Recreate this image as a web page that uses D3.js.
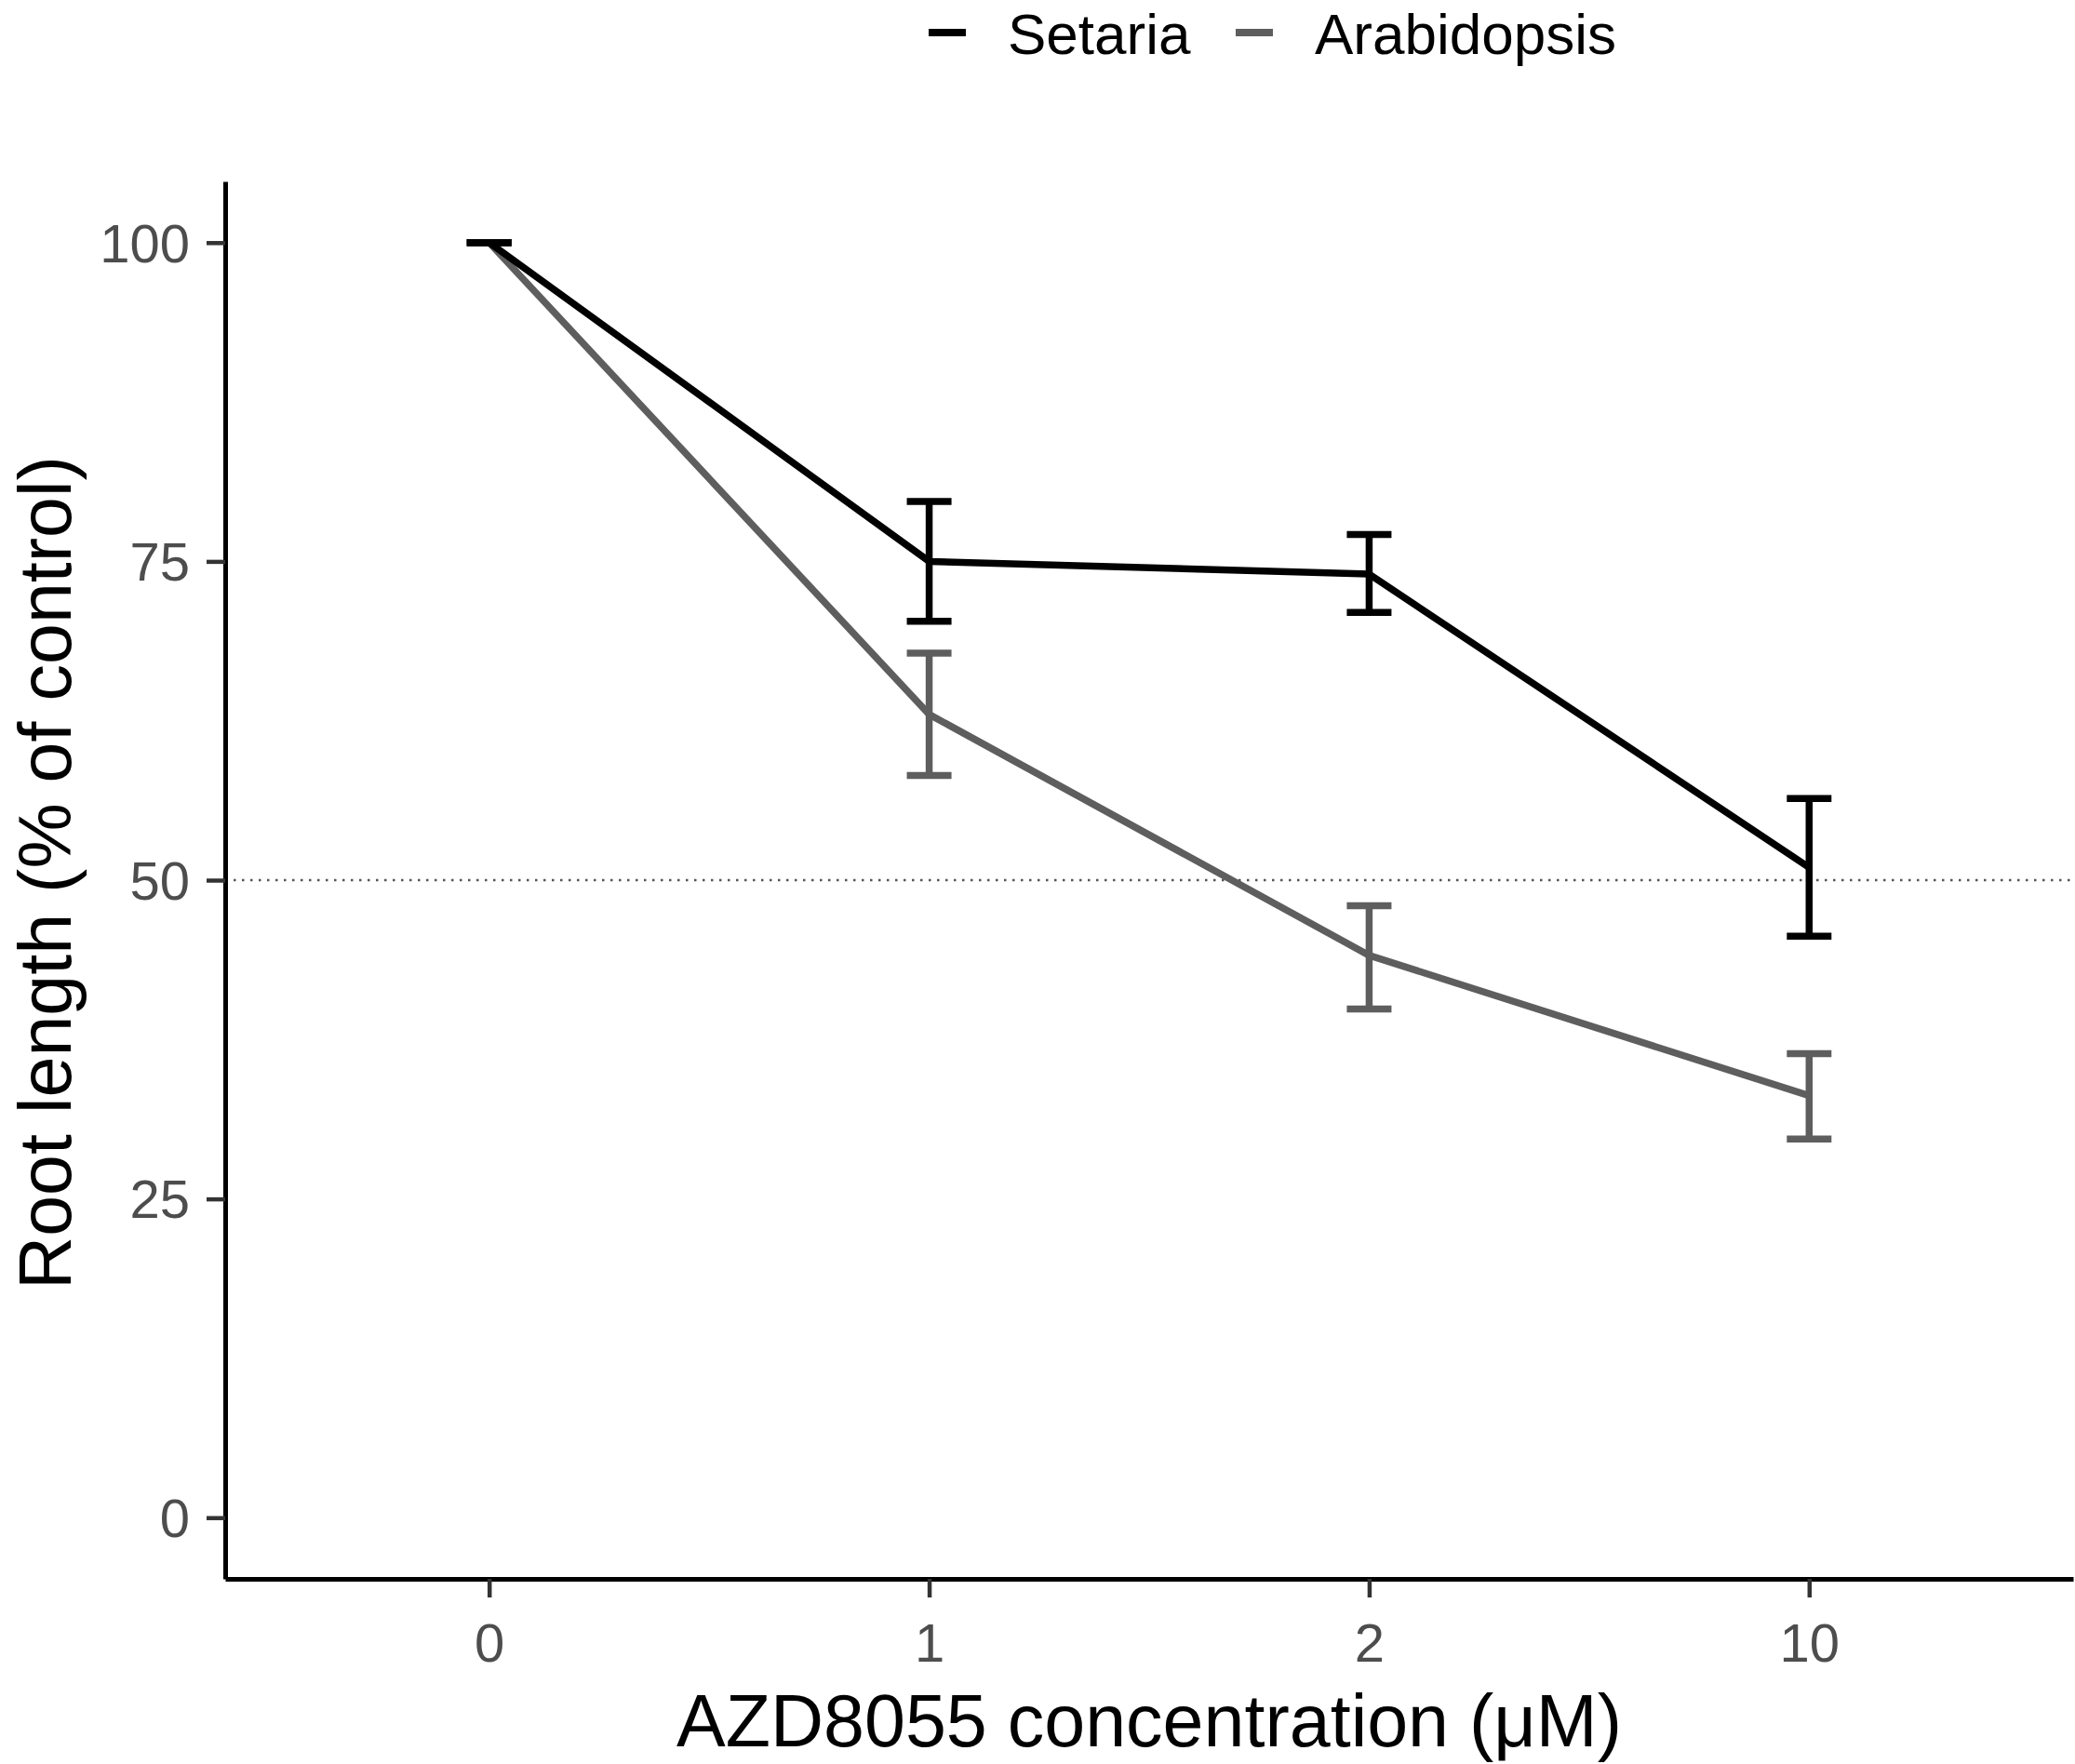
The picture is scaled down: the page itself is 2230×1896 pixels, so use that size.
<!DOCTYPE html>
<html>

<head>
    <meta charset="utf-8">
    <title>Root length</title>
    <script src="https://cdn.jsdelivr.net/npm/d3@7"></script>
    <style type="text/css">
    body {
        margin: 0;
        background: #fff;
    }

    svg {
        font-family: "Liberation Sans", Arial, sans-serif;
    }

    .axis path,
    .axis line {
        fill: none;
    }

    .axis text {
        fill: #4d4d4d;
        font-size: 58px;
    }

    .title {
        font-size: 79px;
        fill: #000;
    }

    .legend text {
        font-size: 62px;
        fill: #000;
    }
    </style>
</head>

<body>
    <script>
    // concentrations (uM) - treated as discrete categories
    var concentrations = ["0", "1", "2", "10"];
    var seriesNames = ["Setaria", "Arabidopsis"];
    var seriesColors = ["#000000", "#5e5e5e"];

    // mean root length (% of control) and error bar limits
    var setariaMean = [100, 75, 74, 51];
    var setariaLow = [100, 70.3, 71.0, 45.6];
    var setariaHigh = [100, 79.7, 77.1, 56.4];

    var arabidopsisMean = [100, 63, 44.1, 33.1];
    var arabidopsisLow = [100, 58.2, 39.9, 29.7];
    var arabidopsisHigh = [100, 67.8, 48.0, 36.4];

    var yTicks = [0, 25, 50, 75, 100];
    var refLine = 50;

    var series = [{
        name: seriesNames[0],
        color: seriesColors[0],
        values: concentrations.map(function(c, i) {
            return { conc: c, mean: setariaMean[i], low: setariaLow[i], high: setariaHigh[i] };
        })
    }, {
        name: seriesNames[1],
        color: seriesColors[1],
        values: concentrations.map(function(c, i) {
            return { conc: c, mean: arabidopsisMean[i], low: arabidopsisLow[i], high: arabidopsisHigh[i] };
        })
    }];

    var W = 2230,
        H = 1896;
    var margin = {
            top: 195,
            right: 2,
            bottom: 199,
            left: 242
        },
        width = W - margin.left - margin.right,
        height = H - margin.top - margin.bottom;

    var x = d3.scalePoint()
        .domain(concentrations)
        .range([0, width])
        .padding(0.6);

    var y = d3.scaleLinear()
        .domain([-4.8, 104.8])
        .range([height, 0]);

    var svg = d3.select("body").append("svg")
        .attr("width", W)
        .attr("height", H);

    var g = svg.append("g")
        .attr("transform", "translate(" + margin.left + "," + margin.top + ")");

    // dotted reference line at 50%
    g.append("line")
        .attr("x1", 0)
        .attr("x2", width)
        .attr("y1", y(refLine))
        .attr("y2", y(refLine))
        .style("stroke", "#555")
        .style("stroke-width", 2.5)
        .style("stroke-dasharray", "2.5,6.5");

    var line = d3.line()
        .x(function(d) { return x(d.conc); })
        .y(function(d) { return y(d.mean); });

    // Arabidopsis underneath, Setaria on top
    var groups = g.selectAll(".series")
        .data(series.slice().reverse())
        .enter().append("g")
        .attr("class", "series")
        .style("stroke", function(d) { return d.color; })
        .style("stroke-width", 7.5)
        .style("fill", "none");

    groups.append("path")
        .attr("d", function(d) { return line(d.values); })
        .style("stroke-linejoin", "round");

    var capW = 24;
    var bars = groups.selectAll(".err")
        .data(function(d) { return d.values; })
        .enter().append("g")
        .attr("class", "err");

    bars.append("line")
        .attr("x1", function(d) { return x(d.conc); })
        .attr("x2", function(d) { return x(d.conc); })
        .attr("y1", function(d) { return y(d.low); })
        .attr("y2", function(d) { return y(d.high); });

    bars.append("line")
        .attr("x1", function(d) { return x(d.conc) - capW; })
        .attr("x2", function(d) { return x(d.conc) + capW; })
        .attr("y1", function(d) { return y(d.high); })
        .attr("y2", function(d) { return y(d.high); });

    bars.append("line")
        .attr("x1", function(d) { return x(d.conc) - capW; })
        .attr("x2", function(d) { return x(d.conc) + capW; })
        .attr("y1", function(d) { return y(d.low); })
        .attr("y2", function(d) { return y(d.low); });

    // axes
    var xAxis = g.append("g")
        .attr("class", "axis axis--x")
        .attr("transform", "translate(0," + height + ")")
        .call(d3.axisBottom(x).tickSizeInner(20).tickSizeOuter(0).tickPadding(28));

    var yAxis = g.append("g")
        .attr("class", "axis axis--y")
        .call(d3.axisLeft(y).tickValues(yTicks).tickSizeInner(20).tickSizeOuter(0).tickPadding(18));

    g.selectAll(".axis .domain")
        .style("stroke", "#000")
        .style("stroke-width", 5);
    g.selectAll(".axis .tick line")
        .style("stroke", "#333")
        .style("stroke-width", 4.5);
    xAxis.selectAll(".tick text").attr("dy", "0.71em");
    yAxis.selectAll(".tick text").attr("dy", "0.35em");

    // axis titles
    svg.append("text")
        .attr("class", "title")
        .attr("x", margin.left + width / 2)
        .attr("y", 1877)
        .attr("text-anchor", "middle")
        .text("AZD8055 concentration (\u03bcM)");

    svg.append("text")
        .attr("class", "title")
        .attr("transform", "translate(76," + (margin.top + height / 2 - 8) + ") rotate(-90)")
        .attr("text-anchor", "middle")
        .text("Root length (% of control)");

    // legend
    var legendX = [998, 1328];
    var legend = svg.append("g")
        .attr("class", "legend")
        .selectAll("g")
        .data(series)
        .enter().append("g")
        .attr("transform", function(d, i) { return "translate(" + legendX[i] + ",0)"; });

    legend.append("line")
        .attr("x1", 0)
        .attr("x2", 40)
        .attr("y1", 35)
        .attr("y2", 35)
        .style("stroke", function(d) { return d.color; })
        .style("stroke-width", 8);

    legend.append("text")
        .attr("x", 85)
        .attr("y", 58)
        .text(function(d) { return d.name; });
    </script>
</body>

</html>
